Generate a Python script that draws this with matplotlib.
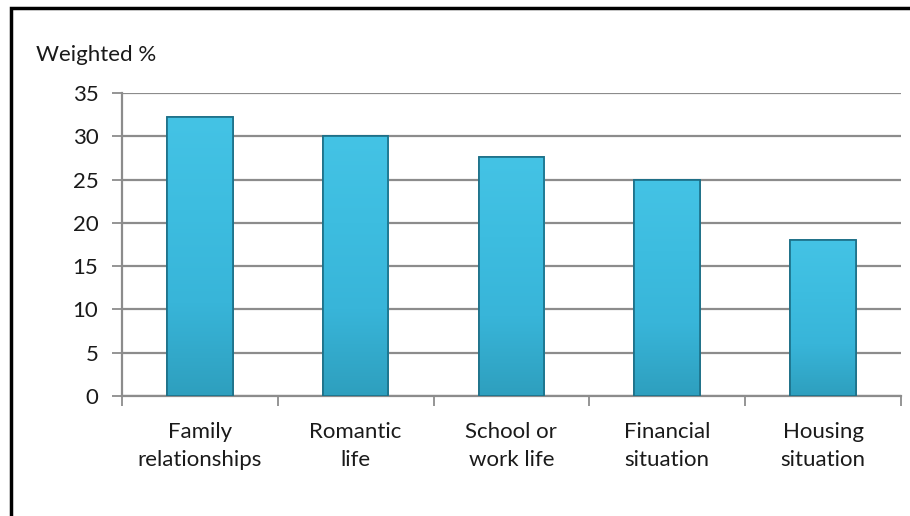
import numpy as np
import matplotlib
matplotlib.use('Agg')
import matplotlib.pyplot as plt
from matplotlib.colors import LinearSegmentedColormap
from matplotlib.patches import Rectangle

categories = ['Family\nrelationships', 'Romantic\nlife', 'School or\nwork life',
              'Financial\nsituation', 'Housing\nsituation']
values = [32.2, 30.0, 27.6, 25.0, 18.0]
yticks = [0, 5, 10, 15, 20, 25, 30, 35]

plt.rcParams['font.family'] = ['Lato', 'DejaVu Sans']

fig = plt.figure(figsize=(9.1, 5.16), dpi=100)
ax = fig.add_axes([0.134, 0.2326, 0.856, 0.587])

x = np.arange(len(categories))
bars = ax.bar(x, values, width=0.42, color='#38b6da', edgecolor='#1c6f87',
              linewidth=1.2, zorder=3)

# soft vertical gradient inside each bar
grad_cmap = LinearSegmentedColormap.from_list('g', ['#2e9fbe', '#38b5d9', '#3dbde0', '#44c3e5'])
grad = np.linspace(0, 1, 256).reshape(-1, 1)
for b in bars:
    x0, y0 = b.get_x(), b.get_y()
    w, h = b.get_width(), b.get_height()
    im = ax.imshow(grad, cmap=grad_cmap, origin='lower', aspect='auto',
                   extent=(x0, x0 + w, y0, y0 + h), zorder=3.5)
    im.set_clip_path(b)
    ax.add_patch(Rectangle((x0, y0), w, h, fill=False, edgecolor='#1c6f87',
                           linewidth=1.2, zorder=4))

ax.set_xlim(-0.5, len(categories) - 0.5)
ax.set_ylim(0, 35)
ax.set_yticks(yticks)
ax.set_yticklabels([str(t) for t in yticks], fontsize=16, color='#1a1a1a')
ax.set_xticks(x)
ax.set_xticklabels(categories, fontsize=16, color='#1a1a1a', linespacing=1.5)
ax.set_xticks(np.arange(len(categories) + 1) - 0.5, minor=True)

ax.yaxis.grid(True, color='#8c8c8c', linewidth=1.6, zorder=0)
ax.set_axisbelow(True)
ax.tick_params(axis='y', length=7, width=1.3, color='#8c8c8c', pad=10)
ax.tick_params(axis='x', which='major', length=0, pad=19)
ax.tick_params(axis='x', which='minor', length=7, width=1.3, color='#8c8c8c')

for s in ['top', 'right']:
    ax.spines[s].set_visible(False)
for s in ['left', 'bottom']:
    ax.spines[s].set_color('#8c8c8c')
    ax.spines[s].set_linewidth(1.6)

fig.text(0.0396, 0.893, 'Weighted %', fontsize=16, color='#1a1a1a', va='center', ha='left')

# chart frame (only top and left edges fall inside the image)
fig.patches.append(Rectangle((0.012, -0.05), 1.2, 1.035, transform=fig.transFigure,
                             fill=False, edgecolor='black', linewidth=2.5))

fig.savefig('out.png', dpi=100)
